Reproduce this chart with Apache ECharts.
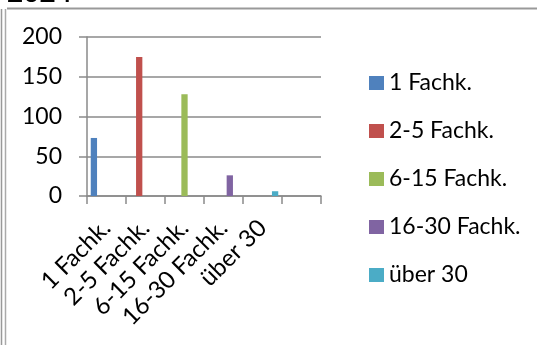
<!DOCTYPE html>
<html>
<head>
<meta charset="utf-8">
<script src="https://cdn.jsdelivr.net/npm/echarts@6/dist/echarts.min.js"></script>
<style>
  html, body { margin: 0; padding: 0; background: #fff; }
  #chart { width: 537px; height: 345px; }
</style>
</head>
<body>
<div id="chart"></div>
<script>
// Categories on the x axis (last slot stays empty, as in the sheet)
const categories = ['1 Fachk.', '2-5 Fachk.', '6-15 Fachk.', '16-30 Fachk.', 'über 30', ''];
// Each series carries a value only in its own category
const seriesNames = ['1 Fachk.', '2-5 Fachk.', '6-15 Fachk.', '16-30 Fachk.', 'über 30'];
const seriesValues = [73, 175, 128, 26, 6];
const seriesColors = ['#4F81BD', '#C0504D', '#9BBB59', '#8064A2', '#4BACC6'];
// Value axis ticks
const yTicks = [0, 50, 100, 150, 200];

const FONT = 'Lato, "Open Sans", sans-serif';
const axisGray = '#8a8a8a';

const series = seriesNames.map(function (name, i) {
  const data = categories.map(function (_, j) { return j === i ? seriesValues[i] : '-'; });
  return {
    name: name,
    type: 'bar',
    data: data,
    barWidth: 6.3,
    barGap: '0%',
    itemStyle: { color: seriesColors[i] },
    emphasis: { disabled: true },
    animation: false
  };
});

const chart = echarts.init(document.getElementById('chart'), null, { renderer: 'canvas' });
chart.setOption({
  animation: false,
  textStyle: { fontFamily: FONT },
  grid: { left: 87, top: 37, width: 234, height: 159, containLabel: false },
  xAxis: {
    type: 'category',
    data: categories,
    boundaryGap: true,
    axisLine: { show: true, lineStyle: { color: axisGray, width: 1.5 } },
    axisTick: { show: true, length: 8, interval: 0, alignWithLabel: false, lineStyle: { color: axisGray, width: 1.5 } },
    axisLabel: { interval: 0, rotate: 45, margin: 28, color: '#000', fontSize: 24, fontFamily: FONT }
  },
  yAxis: {
    type: 'value',
    min: yTicks[0],
    max: yTicks[yTicks.length - 1],
    interval: yTicks[1] - yTicks[0],
    axisLine: { show: true, lineStyle: { color: axisGray, width: 1.5 } },
    axisTick: { show: true, length: 8, lineStyle: { color: axisGray, width: 1.5 } },
    axisLabel: { margin: 25, color: '#000', fontSize: 23, fontFamily: FONT },
    splitLine: { show: true, lineStyle: { color: axisGray, width: 1.5 } }
  },
  legend: {
    orient: 'vertical',
    left: 364,
    top: 66,
    itemWidth: 15,
    itemHeight: 14,
    itemGap: 24,
    icon: 'rect',
    selectedMode: false,
    textStyle: { color: '#000', fontSize: 23, lineHeight: 24, fontFamily: FONT },
    data: seriesNames
  },
  graphic: [
    // heading above the chart frame (clipped at the top)
    { type: 'text', left: 7, top: -21, silent: true,
      style: { text: '2024', fill: '#000', font: 'bold 28px ' + FONT } },
    // frame lines
    { type: 'line', silent: true, shape: { x1: 7, y1: 8.5, x2: 537, y2: 8.5 },
      style: { stroke: '#999', lineWidth: 2 } },
    { type: 'line', silent: true, shape: { x1: 1.5, y1: 9, x2: 1.5, y2: 345 },
      style: { stroke: '#999', lineWidth: 1.5 } },
    { type: 'line', silent: true, shape: { x1: 5.5, y1: 9, x2: 5.5, y2: 345 },
      style: { stroke: '#aaa', lineWidth: 1.5 } }
  ],
  series: series
});
</script>
</body>
</html>
